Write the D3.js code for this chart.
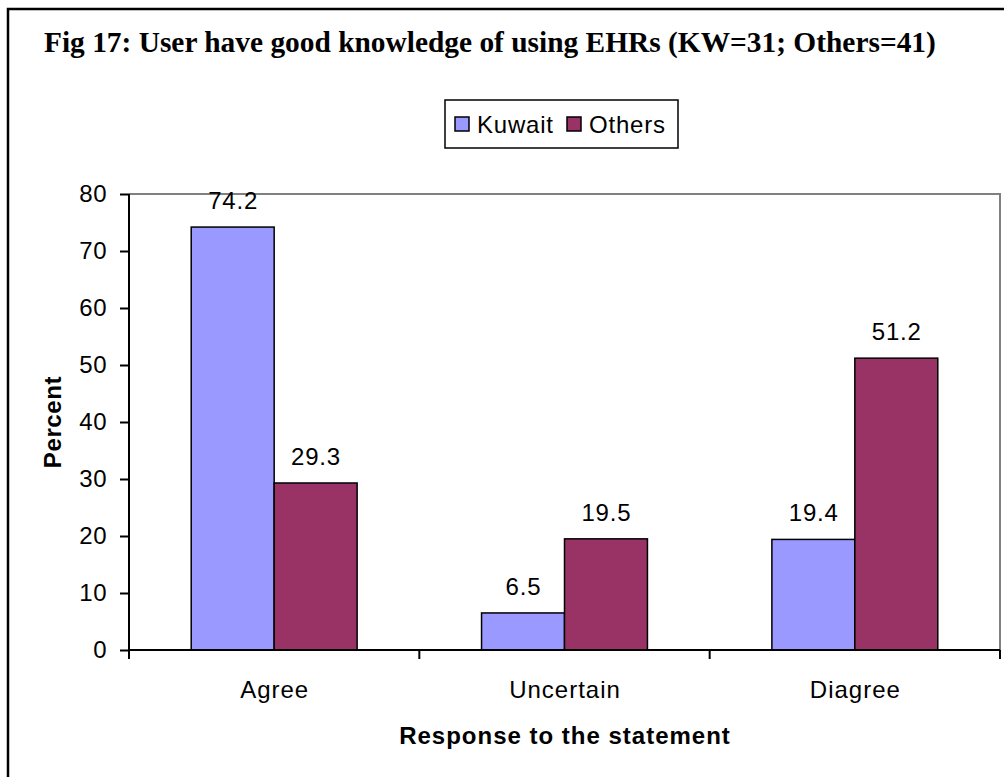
<!DOCTYPE html>
<html>
<head>
<meta charset="utf-8">
<script src="https://cdn.jsdelivr.net/npm/d3@7"></script>
<style>
  html, body { margin: 0; padding: 0; background: #fff; }
  svg { display: block; }
</style>
</head>
<body>
<svg id="chart" width="1004" height="777"></svg>
<script>
const categories = ["Agree", "Uncertain", "Diagree"];
const seriesNames = ["Kuwait", "Others"];
const kuwaitValues = [74.2, 6.5, 19.4];
const othersValues = [29.3, 19.5, 51.2];
const yTicks = [0, 10, 20, 30, 40, 50, 60, 70, 80];
const seriesColors = ["#9999FF", "#993366"];
const titleText = "Fig 17: User have good knowledge of using EHRs (KW=31; Others=41)";
const xTitle = "Response to the statement";
const yTitle = "Percent";

const seriesValues = [kuwaitValues, othersValues];
const data = categories.map((c, i) => ({
  category: c,
  values: seriesNames.map((s, j) => ({ series: s, value: seriesValues[j][i], color: seriesColors[j] }))
}));

const svg = d3.select("#chart");
const sans = "'Liberation Sans', Arial, sans-serif";
const serif = "'Liberation Serif', 'Times New Roman', serif";

// outer frame (extends past right/bottom edges)
svg.append("rect")
  .attr("x", 8).attr("y", 9)
  .attr("width", 1100).attr("height", 900)
  .attr("fill", "none").attr("stroke", "#000").attr("stroke-width", 2.5);

// title
svg.append("text")
  .attr("x", 44).attr("y", 52)
  .attr("font-family", serif).attr("font-weight", "bold").attr("font-size", 29.4)
  .attr("fill", "#000")
  .text(titleText);

const plot = { left: 129, right: 1000, top: 194, bottom: 650 };

const x = d3.scaleBand().domain(categories).range([plot.left, plot.right]).paddingInner(0).paddingOuter(0);
const xSub = d3.scaleBand().domain(seriesNames).range([0, x.bandwidth()]).paddingInner(0).paddingOuter(0.75);
const y = d3.scaleLinear().domain([0, 80]).range([plot.bottom, plot.top]);

// plot area border (top & right gray)
svg.append("path")
  .attr("d", `M${plot.left},${plot.top}H${plot.right}V${plot.bottom}`)
  .attr("fill", "none").attr("stroke", "#808080").attr("stroke-width", 2);

// bars
const groups = svg.append("g").selectAll("g")
  .data(data).join("g")
  .attr("transform", d => `translate(${x(d.category)},0)`);

groups.selectAll("rect")
  .data(d => d.values).join("rect")
  .attr("x", d => xSub(d.series))
  .attr("y", d => y(d.value))
  .attr("width", xSub.bandwidth())
  .attr("height", d => y(0) - y(d.value))
  .attr("fill", d => d.color)
  .attr("stroke", "#000").attr("stroke-width", 1.5);

groups.selectAll("text.val")
  .data(d => d.values).join("text")
  .attr("class", "val")
  .attr("x", d => xSub(d.series) + xSub.bandwidth() / 2 + 0.4)
  .attr("y", d => y(d.value) - 18)
  .attr("text-anchor", "middle")
  .attr("font-family", sans).attr("font-size", 24).attr("letter-spacing", 0.8).attr("fill", "#000")
  .text(d => d.value.toFixed(1));

// y axis
const yAxis = d3.axisLeft(y).tickValues(yTicks).tickSize(9).tickPadding(13).tickFormat(d3.format("d"));
const gy = svg.append("g").attr("transform", `translate(${plot.left},0)`).call(yAxis);
gy.select(".domain").attr("stroke", "#000").attr("stroke-width", 2).attr("d", `M0,${plot.top}V${plot.bottom}`);
gy.selectAll(".tick line").attr("stroke", "#000").attr("stroke-width", 2);
gy.selectAll(".tick text").attr("font-family", sans).attr("font-size", 24).attr("letter-spacing", 0.5).attr("fill", "#000");

// x axis with ticks at category boundaries
const gx = svg.append("g").attr("transform", `translate(0,${plot.bottom})`);
gx.append("line").attr("x1", plot.left).attr("x2", plot.right).attr("y1", 0).attr("y2", 0)
  .attr("stroke", "#000").attr("stroke-width", 2);
const boundaries = categories.map(c => x(c)).concat([x(categories[categories.length - 1]) + x.bandwidth()]);
gx.selectAll("line.tk").data(boundaries).join("line")
  .attr("class", "tk")
  .attr("x1", d => d).attr("x2", d => d).attr("y1", 0).attr("y2", 9)
  .attr("stroke", "#000").attr("stroke-width", 2);
gx.selectAll("text.cat").data(categories).join("text")
  .attr("class", "cat")
  .attr("x", d => x(d) + x.bandwidth() / 2 + 0.5)
  .attr("y", 48)
  .attr("text-anchor", "middle")
  .attr("font-family", sans).attr("font-size", 24).attr("letter-spacing", 1).attr("fill", "#000")
  .text(d => d);

// axis titles
svg.append("text")
  .attr("x", (plot.left + plot.right) / 2 + 0.5).attr("y", 744)
  .attr("text-anchor", "middle")
  .attr("font-family", sans).attr("font-weight", "bold").attr("font-size", 24).attr("letter-spacing", 1)
  .attr("fill", "#000")
  .text(xTitle);

svg.append("text")
  .attr("transform", `translate(61,${(plot.top + plot.bottom) / 2}) rotate(-90)`)
  .attr("text-anchor", "middle")
  .attr("font-family", sans).attr("font-weight", "bold").attr("font-size", 24).attr("letter-spacing", 0.6)
  .attr("fill", "#000")
  .text(yTitle);

// legend
const legend = svg.append("g").attr("transform", "translate(445,100)");
legend.append("rect").attr("x", 0).attr("y", 0).attr("width", 233).attr("height", 48)
  .attr("fill", "#fff").attr("stroke", "#000").attr("stroke-width", 1.5);
const legendX = [10, 122];
const li = legend.selectAll("g.item").data(seriesNames).join("g")
  .attr("class", "item")
  .attr("transform", (d, i) => `translate(${legendX[i]},0)`);
li.append("rect").attr("x", 0).attr("y", 17).attr("width", 14).attr("height", 14)
  .attr("fill", (d, i) => seriesColors[i]).attr("stroke", "#000").attr("stroke-width", 1.5);
li.append("text").attr("x", 22).attr("y", 33)
  .attr("font-family", sans).attr("font-size", 24).attr("letter-spacing", 0.8).attr("fill", "#000")
  .text(d => d);
</script>
</body>
</html>
